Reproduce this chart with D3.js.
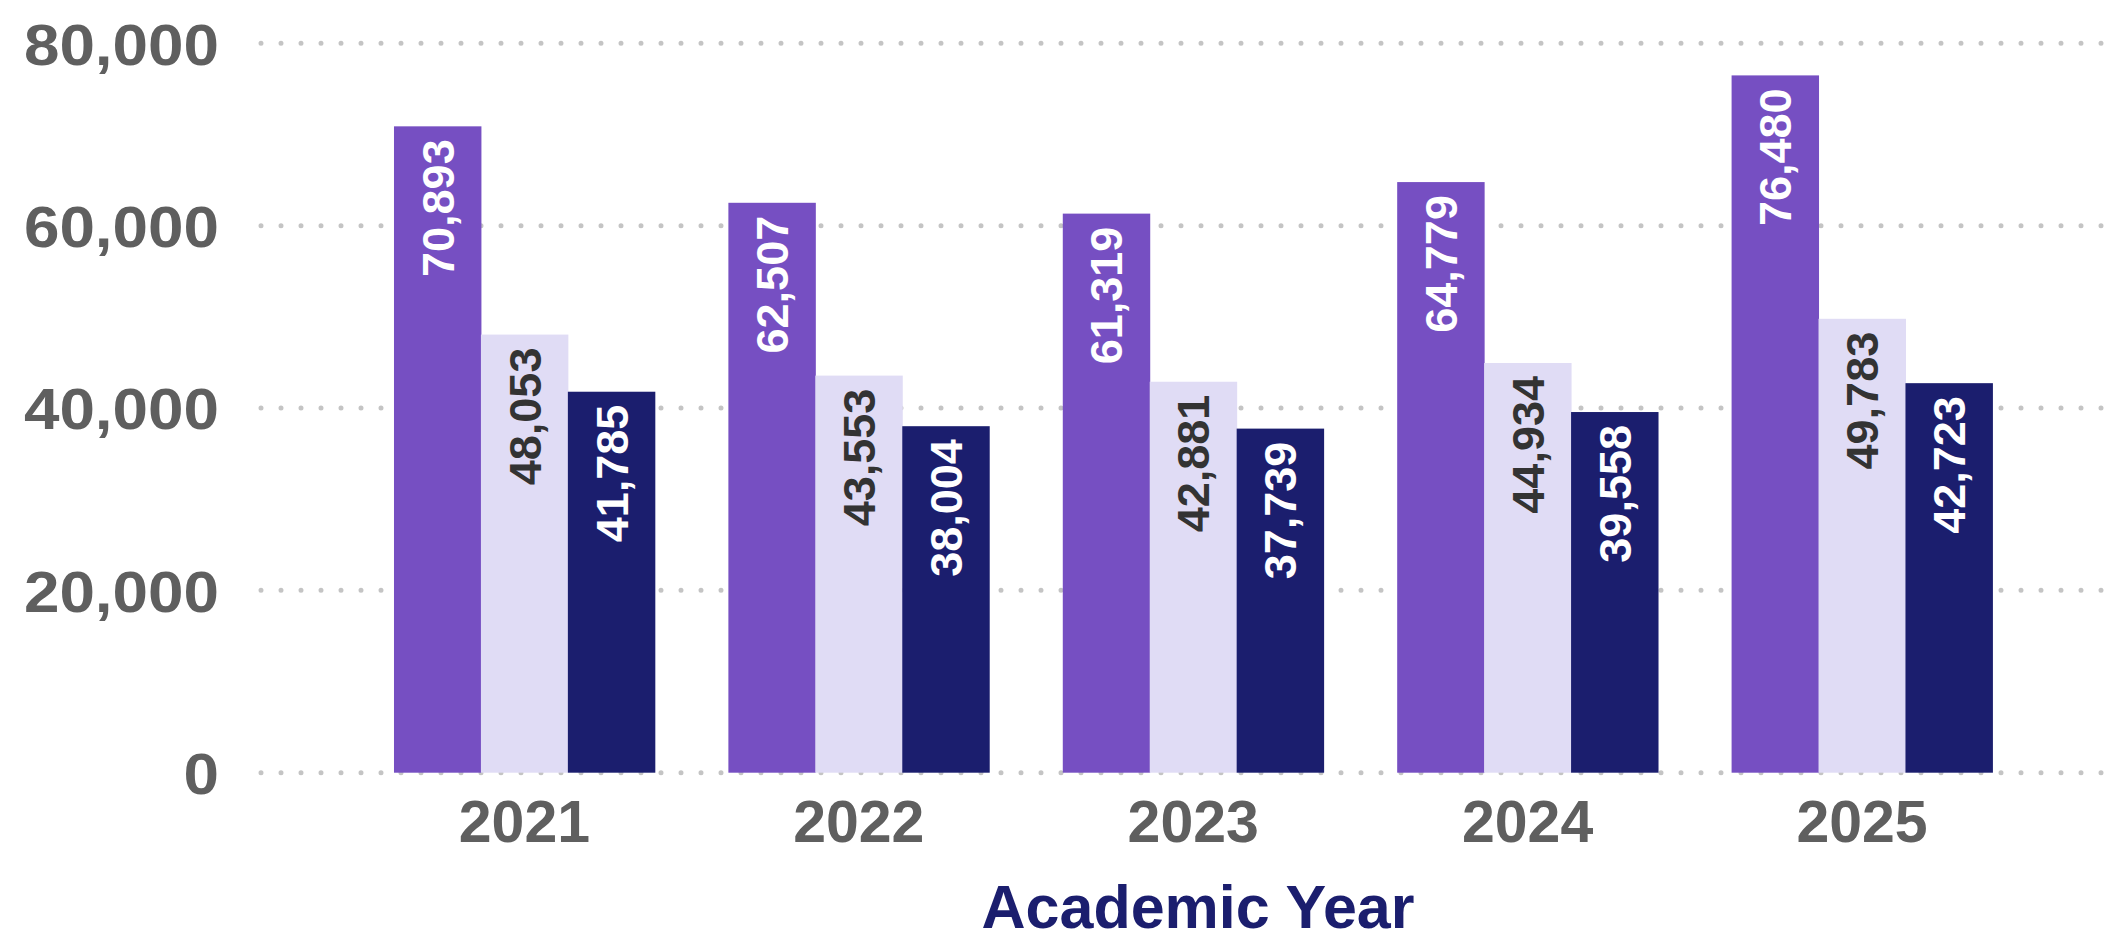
<!DOCTYPE html>
<html>
<head>
<meta charset="utf-8">
<script src="https://cdn.jsdelivr.net/npm/d3@7"></script>
<style>
  html, body { margin: 0; padding: 0; background: #fff; }
  svg { display: block; font-family: "Liberation Sans", Arial, sans-serif; }
</style>
</head>
<body>
<div id="chart"></div>
<script>
// Số liệu
const years = ["2021", "2022", "2023", "2024", "2025"];
const seriesKeys = ["s1", "s2", "s3"];
const s1Values = [70893, 62507, 61319, 64779, 76480];
const s2Values = [48053, 43553, 42881, 44934, 49783];
const s3Values = [41785, 38004, 37739, 39558, 42723];
const yTicks = [0, 20000, 40000, 60000, 80000];
const xTitle = "Academic Year";

const colors = { s1: "#764fc2", s2: "#e0dcf5", s3: "#1b1e6e" };
const labelColors = { s1: "#ffffff", s2: "#333333", s3: "#ffffff" };

const data = years.map((yr, i) => ({
  year: yr,
  values: [
    { key: "s1", value: s1Values[i] },
    { key: "s2", value: s2Values[i] },
    { key: "s3", value: s3Values[i] }
  ]
}));

const width = 2110, height = 936;
const fmt = d3.format(",");

const svg = d3.select("#chart").append("svg")
  .attr("width", width)
  .attr("height", height);

const x0 = d3.scaleBand()
  .domain(years)
  .range([357.2, 2029.2])
  .paddingInner(0.22)
  .paddingOuter(0.11);

const x1 = d3.scaleBand()
  .domain(seriesKeys)
  .range([0, x0.bandwidth()]);

const y = d3.scaleLinear()
  .domain([0, 80000])
  .range([772.7, 43.3]);

// lưới chấm ngang
svg.append("g").selectAll("line")
  .data(yTicks).join("line")
  .attr("x1", 261).attr("x2", width)
  .attr("y1", d => y(d)).attr("y2", d => y(d))
  .attr("stroke", "#c4c4c4")
  .attr("stroke-width", 5)
  .attr("stroke-linecap", "round")
  .attr("stroke-dasharray", "0,20");

// trục y
const yAxis = svg.append("g")
  .attr("transform", "translate(219,0)")
  .call(d3.axisLeft(y).tickValues(yTicks).tickSize(0).tickPadding(0).tickFormat(fmt))
  .call(g => g.select(".domain").remove());
yAxis.selectAll("text")
  .attr("x", 0)
  .attr("dy", "0.36em")
  .attr("transform", "scale(1.1,1)")
  .attr("font-size", 58)
  .attr("font-weight", "bold")
  .attr("font-family", "'Liberation Sans', Arial, sans-serif")
  .attr("fill", "#5f5f5f");

// cột
const groups = svg.append("g").selectAll("g")
  .data(data).join("g")
  .attr("transform", d => `translate(${x0(d.year)},0)`);

groups.selectAll("rect")
  .data(d => d.values).join("rect")
  .attr("x", d => x1(d.key))
  .attr("y", d => y(d.value))
  .attr("width", x1.bandwidth() + 0.5)
  .attr("height", d => y(0) - y(d.value))
  .attr("fill", d => colors[d.key]);

// nhãn giá trị (dọc)
groups.selectAll("text")
  .data(d => d.values).join("text")
  .attr("transform", d => `translate(${x1(d.key) + x1.bandwidth() / 2},${y(d.value) + 13}) rotate(-90)`)
  .attr("text-anchor", "end")
  .attr("dy", "0.36em")
  .attr("font-size", 45)
  .attr("font-weight", "bold")
  .attr("fill", d => labelColors[d.key])
  .text(d => fmt(d.value));

// trục x
const xAxis = svg.append("g")
  .attr("transform", `translate(0,${y(0)})`)
  .call(d3.axisBottom(x0).tickSize(0).tickPadding(0))
  .call(g => g.select(".domain").remove());
xAxis.selectAll("text")
  .attr("y", 69)
  .attr("dy", 0)
  .attr("font-size", 59)
  .attr("font-weight", "bold")
  .attr("font-family", "'Liberation Sans', Arial, sans-serif")
  .attr("fill", "#5f5f5f");

// tiêu đề trục x
svg.append("text")
  .attr("x", 1198)
  .attr("y", 928)
  .attr("text-anchor", "middle")
  .attr("font-size", 61)
  .attr("font-weight", "bold")
  .attr("fill", "#1b1e6e")
  .text(xTitle);
</script>
</body>
</html>
